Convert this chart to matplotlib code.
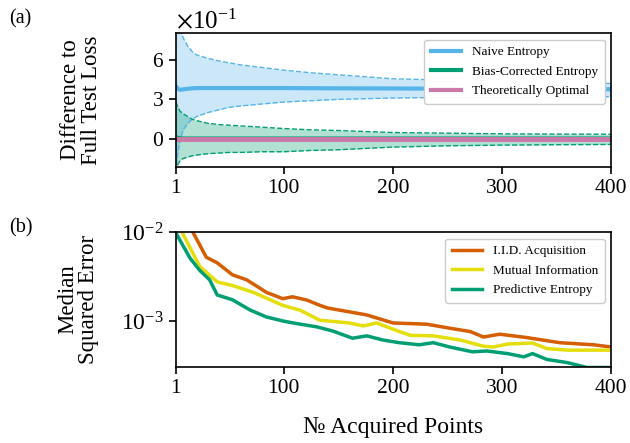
import matplotlib
matplotlib.use('Agg')
import matplotlib.pyplot as plt

plt.rcParams['font.family'] = ['Liberation Serif', 'DejaVu Serif']
plt.rcParams['mathtext.fontset'] = 'stix'

# Panel (a): difference to full test loss
top_x = [1, 3, 5, 8, 12, 16, 20, 30, 40, 50, 60, 80, 100, 125, 150, 200, 250, 300, 350, 400]
naive_mean = [0.40, 0.38, 0.372, 0.375, 0.38, 0.383, 0.385, 0.385, 0.385, 0.385, 0.385,
              0.385, 0.385, 0.384, 0.383, 0.382, 0.38, 0.38, 0.378, 0.376]
naive_upper = [1.05, 0.90, 0.82, 0.76, 0.70, 0.66, 0.635, 0.61, 0.59, 0.575, 0.56,
               0.54, 0.52, 0.50, 0.485, 0.455, 0.445, 0.435, 0.425, 0.42]
naive_lower = [-0.25, -0.10, 0.0, 0.07, 0.12, 0.15, 0.17, 0.20, 0.22, 0.24, 0.25,
               0.265, 0.28, 0.29, 0.30, 0.31, 0.315, 0.315, 0.318, 0.32]
bc_mean = [0.02, 0.015, 0.012, 0.01, 0.01, 0.01, 0.01, 0.01, 0.01, 0.01, 0.01,
           0.01, 0.01, 0.01, 0.01, 0.01, 0.01, 0.01, 0.01, 0.01]
bc_upper = [0.28, 0.24, 0.21, 0.19, 0.17, 0.15, 0.14, 0.12, 0.11, 0.105, 0.10,
            0.09, 0.08, 0.07, 0.065, 0.05, 0.045, 0.04, 0.038, 0.037]
bc_lower = [-0.25, -0.19, -0.16, -0.145, -0.135, -0.125, -0.12, -0.11, -0.105, -0.10, -0.10,
            -0.095, -0.095, -0.085, -0.08, -0.06, -0.05, -0.045, -0.042, -0.04]
optimal = [0.0] * len(top_x)

# Panel (b): median squared error
iid_x = [1, 10, 17, 29, 39, 53, 66, 84, 99, 108, 121, 133, 140, 161, 176, 200, 231, 252,
         271, 283, 298, 323, 353, 384, 400]
iid_y = [0.02, 0.013, 0.0098, 0.0052, 0.0045, 0.0033, 0.0029, 0.0021, 0.00178, 0.00187,
         0.00172, 0.0015, 0.0014, 0.00126, 0.00117, 0.00095, 0.00092, 0.00083, 0.00076,
         0.00066, 0.00071, 0.00065, 0.00057, 0.00054, 0.00051]
mi_x = [1, 7, 23, 39, 53, 72, 99, 115, 133, 160, 173, 185, 206, 216, 237, 262, 283, 292,
        305, 328, 341, 360, 400]
mi_y = [0.015, 0.0098, 0.0041, 0.00275, 0.0025, 0.0021, 0.0015, 0.00132, 0.00102, 0.00095,
        0.00088, 0.00095, 0.00076, 0.00069, 0.00068, 0.00061, 0.00052, 0.00051, 0.00055,
        0.000565, 0.00049, 0.00047, 0.00047]
pe_x = [1, 14, 23, 32, 39, 53, 69, 84, 99, 115, 130, 145, 163, 176, 191, 206, 224, 237,
        252, 273, 286, 305, 320, 328, 341, 360, 378, 400]
pe_y = [0.0098, 0.0051, 0.0037, 0.0029, 0.00196, 0.00173, 0.00133, 0.00111, 0.001, 0.00092,
        0.00086, 0.00077, 0.00064, 0.00068, 0.00061, 0.00057, 0.00054, 0.00057, 0.00051,
        0.00045, 0.00046, 0.00043, 0.000395, 0.00043, 0.00037, 0.00034, 0.0003, 0.0003]

x_ticks = [1, 100, 200, 300, 400]

blue = '#56B4E9'
green = '#009E73'
pink = '#CC79A7'
orange = '#D55E00'
yellow = '#E3DE0C'

fig = plt.figure(figsize=(6.3, 4.43), dpi=100)
ax1 = fig.add_axes([0.279, 0.623, 0.691, 0.3025])
ax2 = fig.add_axes([0.279, 0.1716, 0.691, 0.3047])

# top panel
ax1.fill_between(top_x, naive_lower, naive_upper, color=blue, alpha=0.3, lw=0)
ax1.fill_between(top_x, bc_lower, bc_upper, color=green, alpha=0.3, lw=0)
ax1.plot(top_x, naive_upper, '--', color=blue, lw=1)
ax1.plot(top_x, naive_lower, '--', color=blue, lw=1)
ax1.plot(top_x, bc_upper, '--', color=green, lw=1)
ax1.plot(top_x, bc_lower, '--', color=green, lw=1)
ax1.plot(top_x, naive_mean, color=blue, lw=3, label='Naive Entropy')
ax1.plot(top_x, bc_mean, color=green, lw=2, label='Bias-Corrected Entropy')
ax1.plot(top_x, optimal, color=pink, lw=3.5, label='Theoretically Optimal')
ax1.set_xlim(1, 400)
ax1.set_ylim(-0.21, 0.8)
ax1.set_yticks([0, 0.3, 0.6])
ax1.set_xticks(x_ticks)
ax1.ticklabel_format(axis='y', style='sci', scilimits=(0, 0), useMathText=True)
ax1.yaxis.get_offset_text().set_fontsize(18)
ax1.set_ylabel('Difference to\nFull Test Loss', fontsize=16.5, labelpad=36, linespacing=1.0)
leg1 = ax1.legend(loc='upper right', fontsize=9.5, handlelength=2.3, framealpha=1,
                  edgecolor='#cccccc', borderpad=0.5, labelspacing=0.55)
for h in leg1.get_lines():
    h.set_linewidth(3)

# bottom panel
ax2.plot(iid_x, iid_y, color=orange, lw=2.5, label='I.I.D. Acquisition')
ax2.plot(mi_x, mi_y, color=yellow, lw=2.5, label='Mutual Information')
ax2.plot(pe_x, pe_y, color=green, lw=2.5, label='Predictive Entropy')
ax2.set_yscale('log')
ax2.set_xlim(1, 400)
ax2.set_ylim(3.04e-4, 1e-2)
ax2.set_yticks([1e-2, 1e-3])
ax2.minorticks_off()
ax2.set_xticks(x_ticks)
ax2.set_ylabel('Median\nSquared Error', fontsize=16.5, labelpad=16, linespacing=1.0)
ax2.set_xlabel('№ Acquired Points', fontsize=17, labelpad=14)
ax2.legend(loc='upper right', fontsize=9.5, handlelength=2.3, framealpha=1,
           edgecolor='#cccccc', borderpad=0.5, labelspacing=0.55)

for ax in (ax1, ax2):
    ax.tick_params(labelsize=15.5, length=5, width=1.2, direction='out')
    for s in ax.spines.values():
        s.set_linewidth(1.2)
ax2.tick_params(axis='y', labelsize=17)

fig.text(0.015, 0.957, '(a)', fontsize=14.5, va='center')
fig.text(0.015, 0.485, '(b)', fontsize=14.5, va='center')

fig.savefig('out.png', dpi=100)
